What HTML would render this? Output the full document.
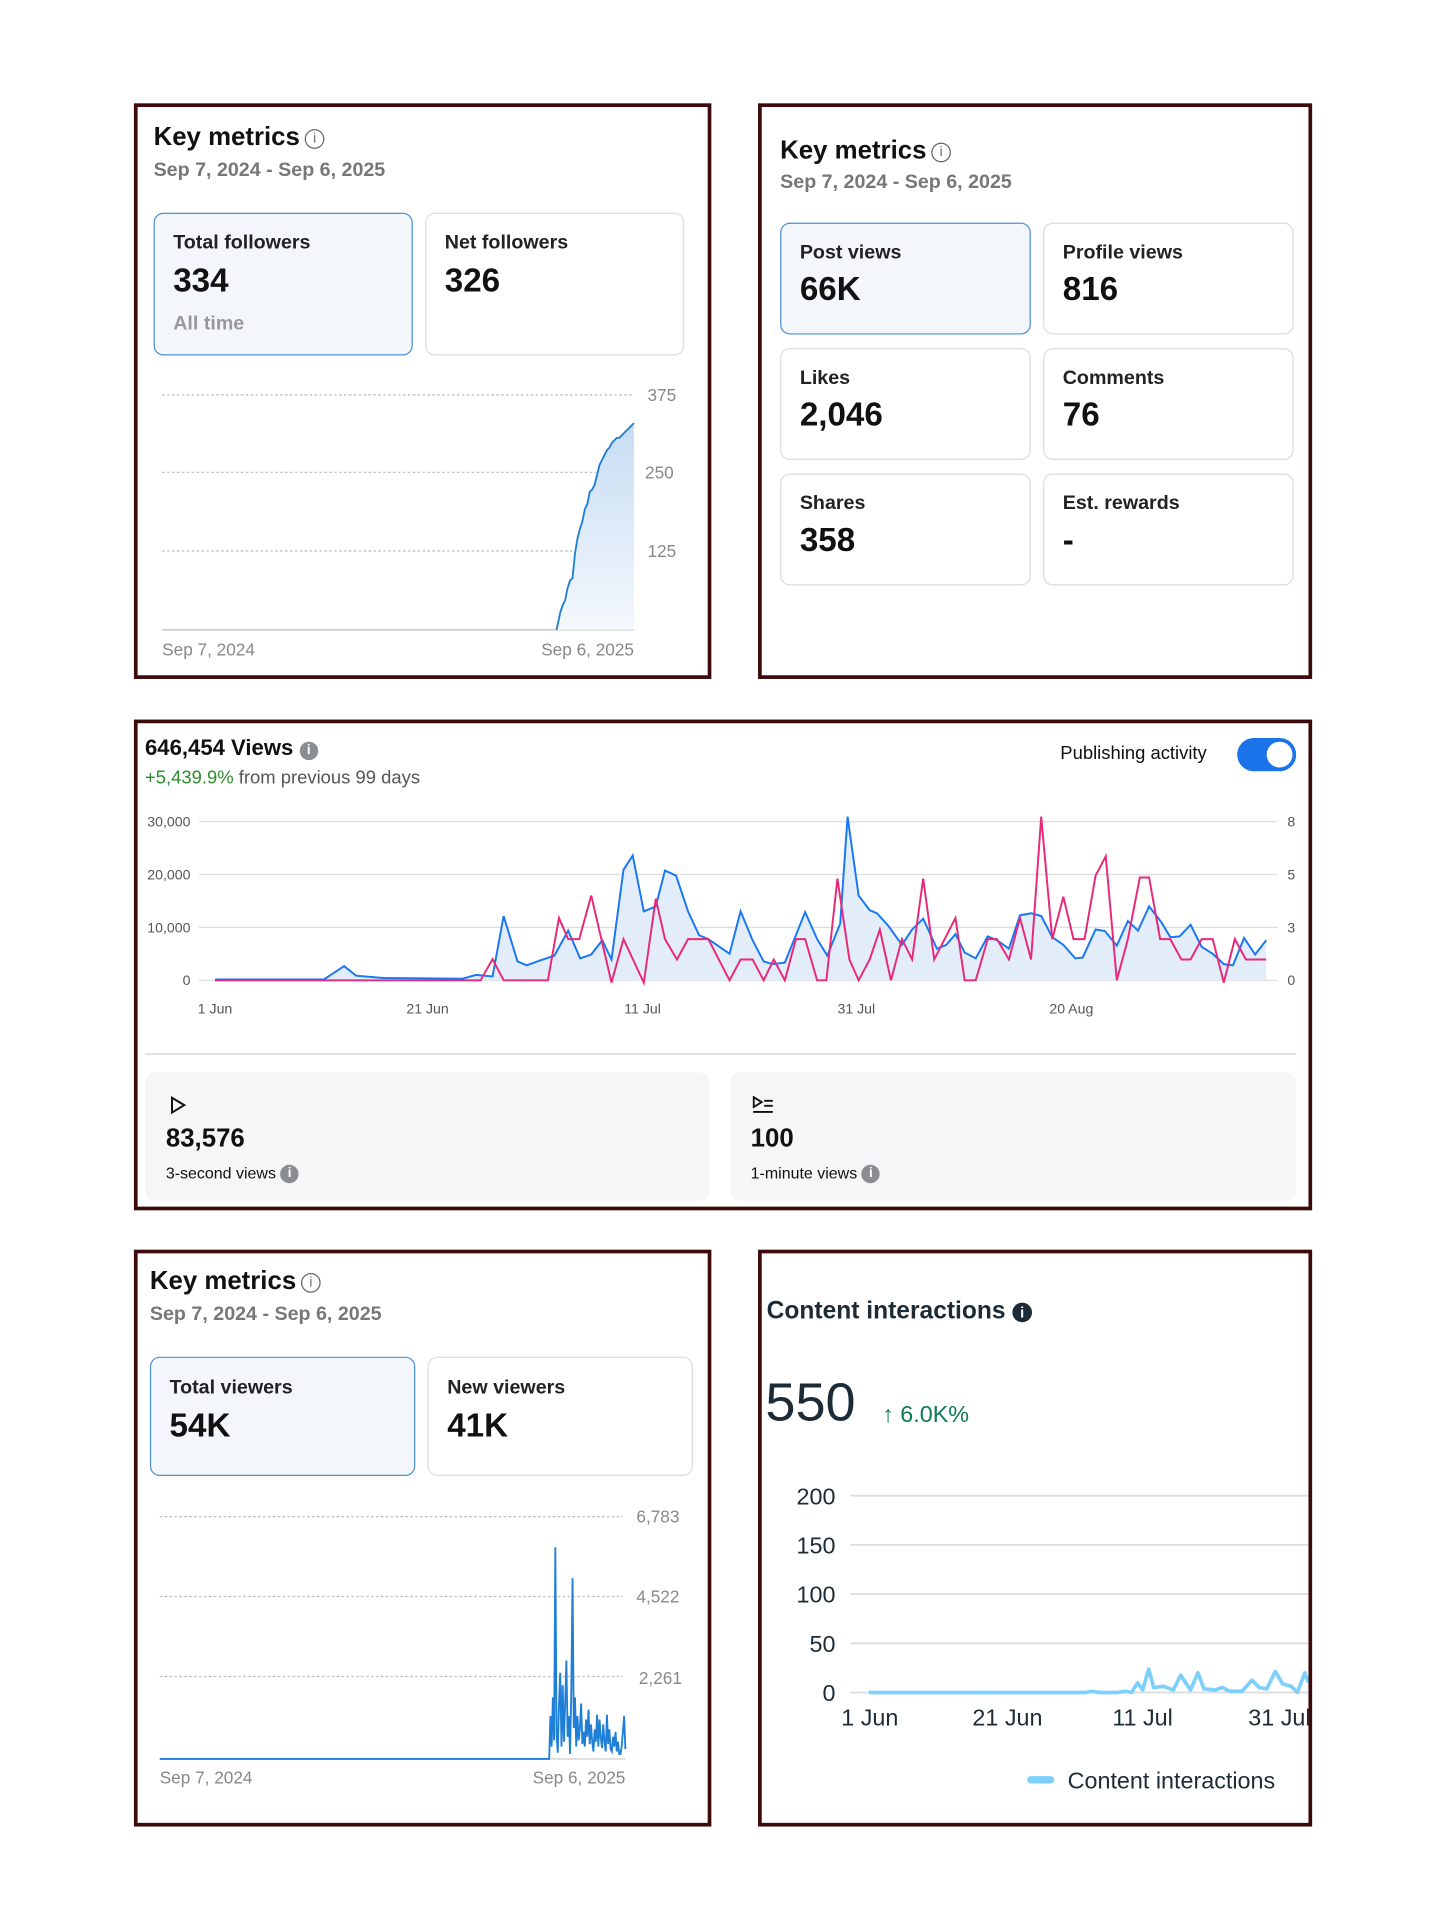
<!DOCTYPE html>
<html><head><meta charset="utf-8">
<style>
html,body{margin:0;padding:0;background:#fff;}
body{width:1445px;height:1927px;overflow:hidden;position:relative;font-family:"Liberation Sans",Arial,sans-serif;}
#w{position:absolute;left:0;top:0;width:1176px;height:1567px;transform:scale(1.2286,1.2300);transform-origin:0 0;}
.p{position:absolute;border:3px solid #3d0a0c;box-sizing:border-box;background:#fff;}
.t{position:absolute;white-space:nowrap;}
.card{position:absolute;box-sizing:border-box;border:1px solid #dcdcdc;border-radius:8px;background:#fff;}
.card.s{background:#f3f7fc;border:1.5px solid #4a8fd8;}
.lbl{position:absolute;left:15px;font-size:16px;font-weight:bold;color:#222;}
.val{position:absolute;left:15px;font-size:27px;font-weight:bold;color:#111;}
.h{font-size:21px;font-weight:bold;color:#111;}
.d{font-size:16px;color:#777;font-weight:bold;}
.ic{display:inline-block;width:14px;height:14px;border:1.3px solid #666;border-radius:50%;font-size:11px;line-height:14px;text-align:center;color:#666;vertical-align:2px;margin-left:4px;font-weight:normal;}
.fi{display:inline-block;width:15px;height:15px;border-radius:50%;background:#8a8d91;color:#fff;font-size:11px;line-height:15px;text-align:center;vertical-align:1px;font-weight:bold;}
</style></head><body><div id="w">

<!-- Panel A -->
<div class="p" style="left:109px;top:84px;width:470px;height:468px;"></div>
<div class="t h" style="left:125px;top:100px;">Key metrics<span class="ic">i</span></div>
<div class="t d" style="left:125px;top:130px;">Sep 7, 2024 - Sep 6, 2025</div>
<div class="card s" style="left:125px;top:173px;width:211px;height:116px;">
 <div class="lbl" style="top:15px;">Total followers</div>
 <div class="val" style="top:39px;">334</div>
 <div class="t" style="left:15px;top:81px;font-size:16px;color:#999;font-weight:bold;">All time</div>
</div>
<div class="card" style="left:346px;top:173px;width:211px;height:116px;">
 <div class="lbl" style="top:15px;">Net followers</div>
 <div class="val" style="top:39px;">326</div>
</div>
<svg style="position:absolute;left:0;top:0;" width="600" height="560">
 <defs><linearGradient id="ga" x1="0" y1="0" x2="0" y2="1"><stop offset="0" stop-color="#c6dcf3"/><stop offset="1" stop-color="#f4f8fd"/></linearGradient></defs>
 <g stroke="#bbb" stroke-dasharray="2,2" stroke-width="1"><line x1="132" y1="321" x2="514" y2="321"/><line x1="132" y1="384" x2="514" y2="384"/><line x1="132" y1="448" x2="514" y2="448"/></g>
 <line x1="132" y1="512" x2="516" y2="512" stroke="#ccc" stroke-width="1.5"/>
 <path d="M453 512 L456 498 L458 492 L460 488 L462 478 L464 472 L466 470 L468 450 L470 438 L472 430 L474 424 L476 414 L478 410 L480 400 L482 398 L484 394 L486 386 L488 378 L490 374 L492 370 L494 366 L496 364 L498 360 L500 358 L502 356 L504 356 L506 354 L508 352 L510 350 L512 348 L514 346 L516 344 L516 512 Z" fill="url(#ga)"/>
 <polyline points="453,512 456,498 458,492 460,488 462,478 464,472 466,470 468,450 470,438 472,430 474,424 476,414 478,410 480,400 482,398 484,394 486,386 488,378 490,374 492,370 494,366 496,364 498,360 500,358 502,356 504,356 506,354 508,352 510,350 512,348 514,346 516,344" fill="none" stroke="#1f7fd6" stroke-width="1.5"/>
 <g font-family="Liberation Sans" font-size="14" fill="#888"><text x="527" y="326">375</text><text x="525" y="389">250</text><text x="527" y="453">125</text>
 <text x="132" y="533">Sep 7, 2024</text><text x="516" y="533" text-anchor="end">Sep 6, 2025</text></g>
</svg>

<!-- Panel B -->
<div class="p" style="left:617px;top:84px;width:451px;height:468px;"></div>
<div class="t h" style="left:635px;top:111px;">Key metrics<span class="ic">i</span></div>
<div class="t d" style="left:635px;top:140px;">Sep 7, 2024 - Sep 6, 2025</div>
<div class="card s" style="left:635px;top:181px;width:204px;height:91px;"><div class="lbl" style="top:15px;">Post views</div><div class="val" style="top:38px;">66K</div></div>
<div class="card" style="left:849px;top:181px;width:204px;height:91px;"><div class="lbl" style="top:15px;">Profile views</div><div class="val" style="top:38px;">816</div></div>
<div class="card" style="left:635px;top:283px;width:204px;height:91px;"><div class="lbl" style="top:15px;">Likes</div><div class="val" style="top:38px;">2,046</div></div>
<div class="card" style="left:849px;top:283px;width:204px;height:91px;"><div class="lbl" style="top:15px;">Comments</div><div class="val" style="top:38px;">76</div></div>
<div class="card" style="left:635px;top:385px;width:204px;height:91px;"><div class="lbl" style="top:15px;">Shares</div><div class="val" style="top:38px;">358</div></div>
<div class="card" style="left:849px;top:385px;width:204px;height:91px;"><div class="lbl" style="top:15px;">Est. rewards</div><div class="val" style="top:38px;">-</div></div>

<!-- Panel C -->
<div class="p" style="left:109px;top:585px;width:959px;height:399px;"></div>
<div class="t" style="left:118px;top:598px;font-size:18px;font-weight:bold;color:#111;">646,454 Views <span class="fi">i</span></div>
<div class="t" style="left:118px;top:624px;font-size:15px;color:#555;"><span style="color:#2e8b2e;">+5,439.9%</span> from previous 99 days</div>
<div class="t" style="left:863px;top:604px;font-size:15px;color:#111;">Publishing activity</div>
<div style="position:absolute;left:1007px;top:600px;width:48px;height:27px;border-radius:14px;background:#1a73e8;"><div style="position:absolute;right:3px;top:3px;width:21px;height:21px;border-radius:50%;background:#fff;"></div></div>
<svg style="position:absolute;left:0;top:0;" width="1170" height="860">
 <g stroke="#ddd" stroke-width="1"><line x1="162" y1="668" x2="1040" y2="668"/><line x1="162" y1="711" x2="1040" y2="711"/><line x1="162" y1="754" x2="1040" y2="754"/><line x1="162" y1="797" x2="1040" y2="797"/></g>
 <g font-family="Liberation Sans" font-size="11.5" fill="#555"><text x="155" y="672" text-anchor="end">30,000</text><text x="155" y="715" text-anchor="end">20,000</text><text x="155" y="758" text-anchor="end">10,000</text><text x="155" y="801" text-anchor="end">0</text>
 <text x="1051" y="672" text-anchor="middle">8</text><text x="1051" y="715" text-anchor="middle">5</text><text x="1051" y="758" text-anchor="middle">3</text><text x="1051" y="801" text-anchor="middle">0</text>
 <text x="175" y="824" text-anchor="middle">1 Jun</text><text x="348" y="824" text-anchor="middle">21 Jun</text><text x="523" y="824" text-anchor="middle">11 Jul</text><text x="697" y="824" text-anchor="middle">31 Jul</text><text x="872" y="824" text-anchor="middle">20 Aug</text></g>
 <line x1="118" y1="857" x2="1055" y2="857" stroke="#ddd" stroke-width="1.5"/>
 <svg x="175" y="668" width="855.6" height="129" viewBox="232 320 1140 412" preserveAspectRatio="none" overflow="visible">
  <polygon fill="#e3edf9" points="232,732 232,730 350,730 372,695 385,720 415,726 500,728 515,718 533,722 545,565 560,683 570,693 585,680 600,668 615,603 628,675 640,665 652,628 662,678 675,445 685,408 697,553 710,540 720,447 732,460 745,553 757,615 767,625 790,663 802,553 815,628 827,683 837,690 850,686 872,555 885,625 896,668 910,585 918,307 930,512 942,550 950,558 962,590 977,640 988,600 1000,572 1015,650 1025,640 1035,612 1045,660 1057,675 1070,618 1080,628 1093,650 1105,563 1117,558 1128,565 1140,620 1152,640 1165,675 1173,673 1187,600 1197,604 1210,642 1222,578 1233,603 1245,540 1258,580 1268,620 1278,618 1290,588 1302,645 1314,663 1326,690 1336,693 1348,622 1360,665 1372,628 1372,732"/>
  <polyline fill="none" stroke="#1877f2" stroke-width="1.6" vector-effect="non-scaling-stroke" points="232,730 350,730 372,695 385,720 415,726 500,728 515,718 533,722 545,565 560,683 570,693 585,680 600,668 615,603 628,675 640,665 652,628 662,678 675,445 685,408 697,553 710,540 720,447 732,460 745,553 757,615 767,625 790,663 802,553 815,628 827,683 837,690 850,686 872,555 885,625 896,668 910,585 918,307 930,512 942,550 950,558 962,590 977,640 988,600 1000,572 1015,650 1025,640 1035,612 1045,660 1057,675 1070,618 1080,628 1093,650 1105,563 1117,558 1128,565 1140,620 1152,640 1165,675 1173,673 1187,600 1197,604 1210,642 1222,578 1233,603 1245,540 1258,580 1268,620 1278,618 1290,588 1302,645 1314,663 1326,690 1336,693 1348,622 1360,665 1372,628"/>
  <polyline fill="none" stroke="#e8297a" stroke-width="1.6" vector-effect="non-scaling-stroke" points="232,732 520,732 533,677 545,732 593,732 605,570 615,625 627,625 640,512 662,738 675,625 697,738 710,520 720,625 733,678 745,625 767,625 790,732 802,678 815,678 827,732 838,678 850,732 862,625 872,625 885,732 895,732 907,468 920,678 930,732 942,678 953,600 965,732 977,625 988,678 1000,468 1012,678 1035,570 1045,732 1057,732 1070,625 1080,625 1093,678 1105,570 1117,678 1128,307 1140,625 1152,515 1163,625 1175,625 1187,460 1198,410 1210,732 1222,625 1235,465 1245,465 1257,625 1268,625 1280,678 1290,678 1302,625 1314,625 1326,738 1338,625 1350,678 1372,678"/>
 </svg>
</svg>
<div style="position:absolute;left:118px;top:872px;width:460px;height:104px;background:#f5f6f8;border-radius:8px;"></div>
<div style="position:absolute;left:594px;top:872px;width:461px;height:104px;background:#f5f6f8;border-radius:8px;"></div>
<svg style="position:absolute;left:138px;top:891px;" width="14" height="15"><path d="M2 1.5 L12 7.5 L2 13.5 Z" fill="none" stroke="#111" stroke-width="1.6"/></svg>
<svg style="position:absolute;left:612px;top:891px;" width="18" height="16"><path d="M1.5 1 L8 5 L1.5 9 Z" fill="none" stroke="#111" stroke-width="1.5"/><line x1="10" y1="4" x2="17" y2="4" stroke="#111" stroke-width="1.5"/><line x1="10" y1="8" x2="17" y2="8" stroke="#111" stroke-width="1.5"/><line x1="1" y1="13" x2="17" y2="13" stroke="#111" stroke-width="1.5"/></svg>
<div class="t" style="left:135px;top:914px;font-size:21px;font-weight:bold;color:#111;">83,576</div>
<div class="t" style="left:135px;top:946px;font-size:13px;color:#111;">3-second views <span class="fi">i</span></div>
<div class="t" style="left:611px;top:914px;font-size:21px;font-weight:bold;color:#111;">100</div>
<div class="t" style="left:611px;top:946px;font-size:13px;color:#111;">1-minute views <span class="fi">i</span></div>

<!-- Panel D -->
<div class="p" style="left:109px;top:1016px;width:470px;height:469px;"></div>
<div class="t h" style="left:122px;top:1030px;">Key metrics<span class="ic">i</span></div>
<div class="t d" style="left:122px;top:1060px;">Sep 7, 2024 - Sep 6, 2025</div>
<div class="card s" style="left:122px;top:1103px;width:216px;height:97px;"><div class="lbl" style="top:16px;">Total viewers</div><div class="val" style="top:40px;">54K</div></div>
<div class="card" style="left:348px;top:1103px;width:216px;height:97px;"><div class="lbl" style="top:16px;">New viewers</div><div class="val" style="top:40px;">41K</div></div>
<svg style="position:absolute;left:0;top:1180px;" width="600" height="300">
 <g stroke="#bbb" stroke-dasharray="2,2"><line x1="130" y1="53" x2="507" y2="53"/><line x1="130" y1="118" x2="507" y2="118"/><line x1="130" y1="183" x2="507" y2="183"/></g>
 <line x1="130" y1="250" x2="509" y2="250" stroke="#ddd" stroke-width="1.5"/>
 <polyline fill="none" stroke="#1f7fd6" stroke-width="1.5" points="130,250 447,250 448,215 449,240 450,200 451,235 452,78 453,230 454,245 455,205 456,180 457,240 458,190 459,236 460,205 461,170 462,232 463,215 464,246 465,195 466,103 467,225 468,200 469,240 470,215 471,235 472,225 473,205 474,238 475,228 476,240 477,218 478,232 479,210 480,238 481,222 482,236 483,244 484,226 485,236 486,214 487,240 488,218 489,233 490,241 491,222 492,236 493,244 494,214 495,238 496,226 497,242 498,244 499,232 500,240 501,228 502,244 503,236 504,246 505,246 506,240 507,228 508,215 509,242"/>
 <g font-family="Liberation Sans" font-size="14" fill="#888"><text x="518" y="58">6,783</text><text x="518" y="123">4,522</text><text x="520" y="189">2,261</text>
 <text x="130" y="270">Sep 7, 2024</text><text x="509" y="270" text-anchor="end">Sep 6, 2025</text></g>
</svg>

<!-- Panel E -->
<div class="p" style="left:617px;top:1016px;width:451px;height:469px;"></div>
<div class="t" style="left:624px;top:1055px;font-size:20px;font-weight:bold;color:#1c2b36;">Content interactions <span style="display:inline-block;width:16px;height:16px;border-radius:50%;background:#1c2b36;color:#fff;font-size:12px;line-height:16px;text-align:center;vertical-align:1px;">i</span></div>
<div class="t" style="left:623px;top:1116px;font-size:44px;color:#1c2b36;">550</div>
<div class="t" style="left:718px;top:1140px;font-size:19px;color:#0f7a54;">↑ 6.0K%</div>
<svg style="position:absolute;left:619px;top:1180px;" width="446" height="300">
 <g stroke="#ddd" stroke-width="1.5"><line x1="73" y1="36" x2="446" y2="36"/><line x1="73" y1="76" x2="446" y2="76"/><line x1="73" y1="116" x2="446" y2="116"/><line x1="73" y1="156" x2="446" y2="156"/><line x1="73" y1="196" x2="446" y2="196"/></g>
 <g font-family="Liberation Sans" font-size="19" fill="#1c2b36"><text x="61" y="43" text-anchor="end">200</text><text x="61" y="83" text-anchor="end">150</text><text x="61" y="123" text-anchor="end">100</text><text x="61" y="163" text-anchor="end">50</text><text x="61" y="203" text-anchor="end">0</text>
 <text x="89" y="223" text-anchor="middle">1 Jun</text><text x="201" y="223" text-anchor="middle">21 Jun</text><text x="311" y="223" text-anchor="middle">11 Jul</text><text x="397" y="223">31 Jul</text>
 <text x="250" y="274">Content interactions</text></g>
 <polyline fill="none" stroke="#7dd0fb" stroke-width="3" stroke-linejoin="round" points="88,196 265,196 270,195 275,196 291,196 297,195 302,196 307,188 311,194 316,177 320,192 328,191 336,194 342,182 350,194 356,180 361,193 370,194 376,192 382,195 392,195 400,186 406,192 412,193 419,179 425,189 432,191 437,196 443,180 446,188"/>
 <rect x="217" y="264" width="22" height="6" rx="3" fill="#7dd0fb"/>
</svg>

</div></body></html>
